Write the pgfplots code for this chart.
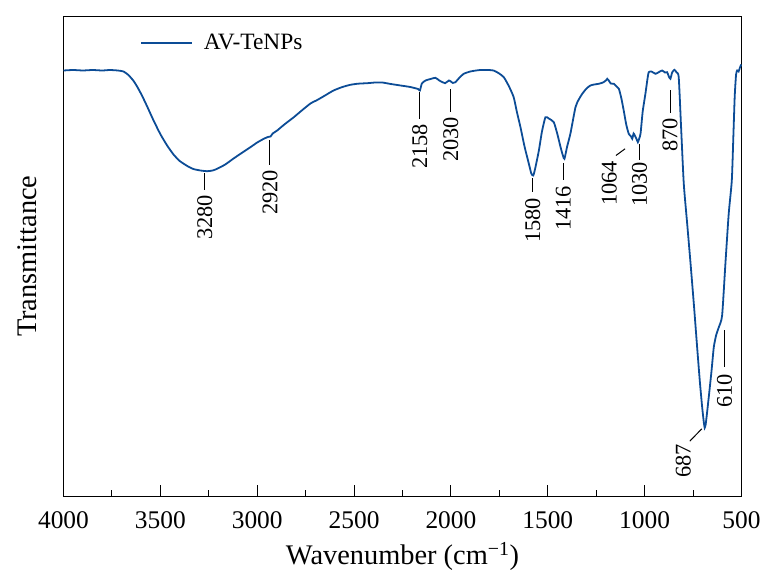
\documentclass[border=0pt]{standalone}
\usepackage{fontspec}
\setmainfont{Liberation Serif}
\usepackage{pgfplots}
\pgfplotsset{compat=1.18}
\definecolor{ftir}{RGB}{12,76,150}
\newcommand\tickfont{\fontsize{25.5}{28}\selectfont}
\newcommand\labfont{\fontsize{28.5}{32}\selectfont}
\newcommand\annfont{\fontsize{22.5}{25}\selectfont}
\newcommand\legfont{\fontsize{23.5}{26}\selectfont}
\begin{document}
\begin{tikzpicture}
\begin{axis}[
  scale only axis, width=678bp, height=480.5bp,
  x dir=reverse, xmin=500, xmax=4000, ymin=0, ymax=480.5,
  xtick={500,1000,...,4000}, minor x tick num=1,
  xtick pos=bottom, ytick=\empty,
  major tick length=11bp, minor tick length=6bp,
  tick style={line width=0.9pt, black},
  axis line style={line width=0.9pt, black},
  /pgf/number format/assume math mode=true,
  /pgf/number format/1000 sep={},
  xticklabel style={font=\tickfont, anchor=base, yshift=-31.5bp, inner sep=0pt},
  xlabel={Wavenumber (cm\textsuperscript{−1})},
  ylabel={Transmittance},
  xlabel style={font=\labfont, at={(axis description cs:0.5,0)}, anchor=base, yshift=-67.5bp, inner sep=0pt},
  ylabel style={font=\labfont, at={(axis description cs:-0.0405,0.5)}, anchor=base, inner sep=0pt},
  clip=false,
  legend style={draw=none, fill=none, at={(axis description cs:0.1128,0.9438)}, anchor=west,
    font=\legfont, inner sep=0pt, nodes={inner sep=0pt}},
  legend cell align=left,
  legend image code/.code={\draw[#1] (0bp,0bp) -- (51bp,0bp); \path (62bp,0bp);},
]
\addplot[ftir, line width=1.8pt, smooth, tension=0.35] coordinates {
(4000,426)(3950,426.5)(3900,426)(3850,426.5)(3800,426)(3760,426.5)(3720,426)(3690,425)(3665,421.5)(3640,416)(3620,410)(3595,401)(3568,390)(3535,376)(3499,362)(3465,351)(3432,342)(3400,335.5)(3361,330.5)(3330,327.5)(3293,326)(3258,325.3)(3230,326)(3207,327.7)(3165,332)(3122,338)(3080,343.5)(3035,349.3)(3000,354)(2966,357.7)(2945,359.5)(2931,360)(2920,363)(2897,366)(2860,372)(2811,379.3)(2770,386)(2725,393)(2690,396.5)(2650,401)(2606,406)(2560,409.5)(2519,411.7)(2480,412.8)(2432,413.3)(2390,414)(2355,414)(2310,412.5)(2260,411)(2210,409.5)(2170,407.5)(2160,406)(2150,413)(2131,416)(2105,417.5)(2080,418.7)(2060,416)(2040,414)(2030,413.3)(2010,416)(2002,415.3)(1990,413.5)(1977,414.3)(1955,419)(1934,422.7)(1900,425)(1870,426)(1847,426.5)(1810,426.5)(1780,426)(1755,423.5)(1727,419.3)(1700,410)(1676,399.3)(1660,385)(1641,369.3)(1620,350)(1598,333)(1585,323)(1575,321)(1565,328)(1546,346)(1530,365)(1512,379.3)(1495,378)(1469,374.3)(1450,362)(1434,349.3)(1422,341)(1414,337.7)(1400,350)(1383,363)(1357,389.3)(1340,397)(1322,402.7)(1300,408)(1280,411)(1260,412)(1237,412.7)(1215,414)(1200,416)(1193,417.7)(1185,416)(1175,413)(1159,412.7)(1145,410)(1133,407.7)(1120,398)(1108,386)(1095,372)(1082,362.7)(1070,360)(1064,357.7)(1057,363)(1051,361)(1043,358)(1035,354.3)(1028,358)(1021,363)(1010,385)(996,402.7)(985,418)(979,424.3)(965,425)(944,422.7)(930,424)(910,426)(895,424)(884,424.3)(875,420)(867,417.7)(858,424)(846,426.7)(835,424)(824,419.3)(812,370)(798,313)(780,272)(763,233)(745,190)(729,149.3)(715,115)(703,89.3)(695,75)(690,68.7)(685,72)(680,80)(669,99.3)(655,125)(643,149.3)(630,162)(617,169.3)(600,181)(583,233)(566,282.7)(550,316)(542,360)(535,400)(528,422)(522,426)(515,425)(508,429)(501,432)
};
\addlegendentry{AV-TeNPs}
\coordinate (ll) at (rel axis cs:0,0);
\coordinate (ur) at (rel axis cs:1,1);
\begin{scope}[line width=1pt, black]
\draw (axis cs:3270,323) -- (axis cs:3270,306);
\node[rotate=90, anchor=east, inner sep=0pt, font=\annfont] at (axis cs:3270,302) {3280};
\draw (axis cs:2934,356) -- (axis cs:2934,331);
\node[rotate=90, anchor=east, inner sep=0pt, font=\annfont] at (axis cs:2934,327) {2920};
\draw (axis cs:2161,404) -- (axis cs:2161,377);
\node[rotate=90, anchor=east, inner sep=0pt, font=\annfont] at (axis cs:2161,373) {2158};
\draw (axis cs:2001,407) -- (axis cs:2001,384);
\node[rotate=90, anchor=east, inner sep=0pt, font=\annfont] at (axis cs:2001,380) {2030};
\draw (axis cs:1578,318) -- (axis cs:1578,304);
\node[rotate=90, anchor=east, inner sep=0pt, font=\annfont] at (axis cs:1578,299) {1580};
\draw (axis cs:1420,333) -- (axis cs:1420,316);
\node[rotate=90, anchor=east, inner sep=0pt, font=\annfont] at (axis cs:1420,311) {1416};
\draw (axis cs:1101,347.7) -- (axis cs:1148,341);
\node[rotate=90, anchor=east, inner sep=0pt, font=\annfont] at (axis cs:1183,336) {1064};
\draw (axis cs:1027,352) -- (axis cs:1027,336);
\node[rotate=90, anchor=east, inner sep=0pt, font=\annfont] at (axis cs:1027,335) {1030};
\draw (axis cs:869,406) -- (axis cs:869,383);
\node[rotate=90, anchor=east, inner sep=0pt, font=\annfont] at (axis cs:869,379) {870};
\draw (axis cs:705,67.7) -- (axis cs:767,55.3);
\node[rotate=90, anchor=east, inner sep=0pt, font=\annfont] at (axis cs:800,53) {687};
\draw (axis cs:590,166) -- (axis cs:590,129.3);
\node[rotate=90, anchor=east, inner sep=0pt, font=\annfont] at (axis cs:588,123) {610};
\end{scope}
\end{axis}
\pgfresetboundingbox
\path[use as bounding box] ([shift={(-63.5bp,-75.5bp)}]ll) rectangle ([shift={(20.5bp,16bp)}]ur);
\end{tikzpicture}
\end{document}
